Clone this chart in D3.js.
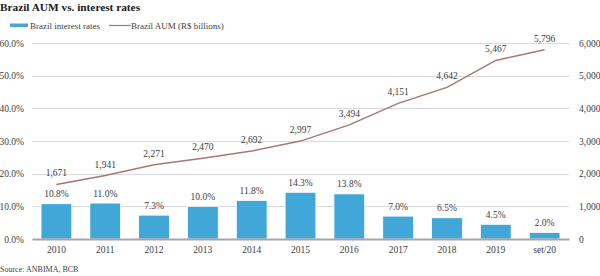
<!DOCTYPE html>
<html>
<head>
<meta charset="utf-8">
<script src="https://cdn.jsdelivr.net/npm/d3@7"></script>
<style>
  body { margin: 0; background: #fff; }
  text { font-family: 'Liberation Serif', 'Times New Roman', serif; fill: #404040; }
</style>
</head>
<body>
<div id="chart"></div>
<script>
// --- Data ---
const years = ['2010', '2011', '2012', '2013', '2014', '2015', '2016', '2017', '2018', '2019', 'set/20'];
const rates = [10.8, 11.0, 7.3, 10.0, 11.8, 14.3, 13.8, 7.0, 6.5, 4.5, 2.0];
const aum = [1671, 1941, 2271, 2470, 2692, 2997, 3494, 4151, 4642, 5467, 5796];
const rateTicks = [0, 10, 20, 30, 40, 50, 60];
const aumTicks = [0, 1000, 2000, 3000, 4000, 5000, 6000];

const W = 600, H = 276;
const margin = {top: 43, right: 31, bottom: 37, left: 32};
const barColor = '#41a7d9';
const lineColor = '#a87770';
const fs = '9.5px';

const svg = d3.select('#chart').append('svg')
    .attr('width', W).attr('height', H);

const x = d3.scaleBand().domain(years)
    .range([margin.left, W - margin.right]).paddingInner(0.37).paddingOuter(0.185);
const yL = d3.scaleLinear().domain([0, 60]).range([H - margin.bottom, margin.top]);
const yR = d3.scaleLinear().domain([0, 6000]).range([H - margin.bottom, margin.top]);

// Title + legend
svg.append('text').attr('x', 0).attr('y', 11)
    .style('font-size', '11.3px').style('font-weight', 'bold').style('fill', '#1a1a1a')
    .text('Brazil AUM vs. interest rates');

svg.append('rect').attr('x', 10).attr('y', 23.5).attr('width', 18).attr('height', 3.5).attr('fill', barColor);
svg.append('text').attr('x', 30).attr('y', 28.5).style('font-size', '9px').text('Brazil interest rates');
svg.append('line').attr('x1', 109).attr('x2', 131).attr('y1', 25.5).attr('y2', 25.5)
    .attr('stroke', lineColor).attr('stroke-width', 1.2);
svg.append('text').attr('x', 131).attr('y', 28.5).style('font-size', '9px').text('Brazil AUM (R$ billions)');

// Gridlines
svg.append('g').selectAll('line').data(rateTicks.slice(1)).join('line')
    .attr('x1', margin.left).attr('x2', W - margin.right)
    .attr('y1', d => Math.round(yL(d)) + 0.5).attr('y2', d => Math.round(yL(d)) + 0.5)
    .attr('stroke', '#d9d9d9').attr('stroke-width', 1);

// Left axis
const axL = svg.append('g').attr('transform', `translate(${margin.left},0)`)
    .call(d3.axisLeft(yL).tickValues(rateTicks).tickSize(0).tickPadding(8).tickFormat(d => d.toFixed(1) + '%'));
axL.select('.domain').remove();
axL.selectAll('text').style('font-size', fs).style('font-family', "'Liberation Serif', serif").attr('fill', '#404040');

// Right axis
const axR = svg.append('g').attr('transform', `translate(${W - margin.right},0)`)
    .call(d3.axisRight(yR).tickValues(aumTicks).tickSize(0).tickPadding(10).tickFormat(d3.format(',')));
axR.select('.domain').remove();
axR.selectAll('text').style('font-size', fs).style('font-family', "'Liberation Serif', serif").attr('fill', '#404040');

// Bars
svg.append('g').selectAll('rect').data(years).join('rect')
    .attr('x', d => x(d)).attr('width', x.bandwidth())
    .attr('y', (d, i) => yL(rates[i])).attr('height', (d, i) => yL(0) - yL(rates[i]))
    .attr('fill', barColor).attr('stroke', '#ffffff').attr('stroke-width', 0.8);

// Bar labels
svg.append('g').selectAll('text').data(years).join('text')
    .attr('x', d => x(d) + x.bandwidth() / 2).attr('y', (d, i) => yL(rates[i]) - 6.5)
    .attr('text-anchor', 'middle').style('font-size', fs)
    .text((d, i) => rates[i].toFixed(1) + '%');

// Bottom axis
const axB = svg.append('g').attr('transform', `translate(0,${yL(0)})`)
    .call(d3.axisBottom(x).tickSize(0).tickPadding(7));
axB.select('.domain').attr('stroke', '#a6a6a6').attr('stroke-width', 2);
axB.selectAll('text').style('font-size', fs).style('font-family', "'Liberation Serif', serif").attr('fill', '#404040');

// AUM line
const line = d3.line().x((d, i) => x(years[i]) + x.bandwidth() / 2).y(d => yR(d));
svg.append('path').datum(aum).attr('d', line)
    .attr('fill', 'none').attr('stroke', lineColor).attr('stroke-width', 1.5);

svg.append('g').selectAll('text').data(aum).join('text')
    .attr('x', (d, i) => x(years[i]) + x.bandwidth() / 2).attr('y', d => yR(d) - 8)
    .attr('text-anchor', 'middle').style('font-size', fs)
    .text(d => d3.format(',')(d));

// Source
svg.append('text').attr('x', 0).attr('y', 272).style('font-size', '8px').text('Source: ANBIMA, BCB');
</script>
</body>
</html>
